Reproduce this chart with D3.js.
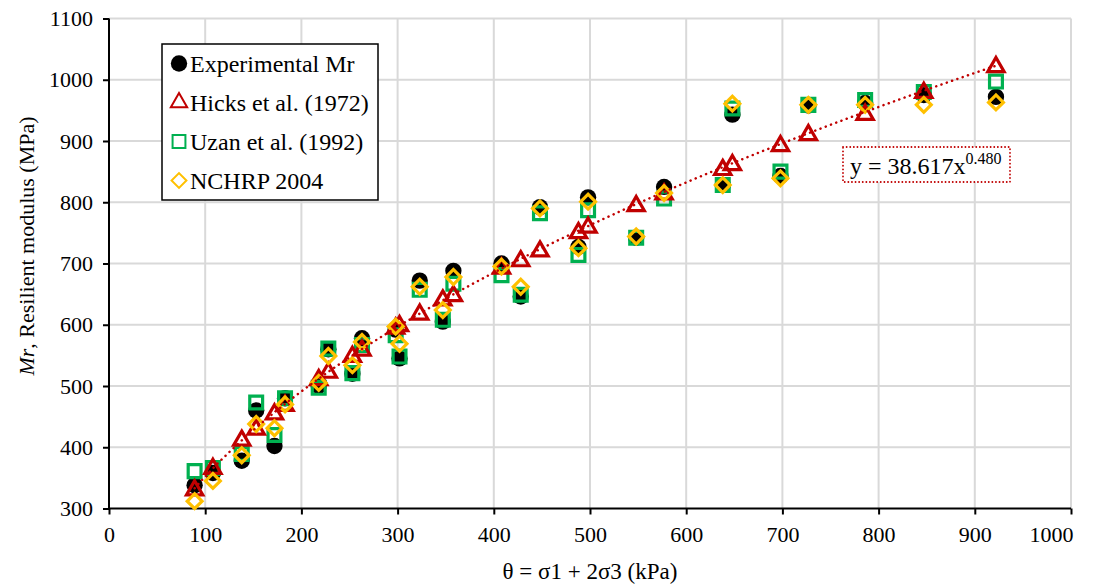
<!DOCTYPE html>
<html>
<head>
<meta charset="utf-8">
<script src="https://cdn.jsdelivr.net/npm/d3@7"></script>
<style>
  body { margin: 0; background: #fff; }
  svg text { font-family: "Liberation Serif", "Times New Roman", serif; fill: #000; }
</style>
</head>
<body>
<svg id="chart" width="1099" height="584"></svg>
<script>
// theta = sigma1 + 2 sigma3 (kPa), one value per test sequence
const theta = [89, 108, 138, 153, 172, 183, 218, 228, 253, 263, 298, 302, 323, 347, 358,
               408, 428, 448, 488, 498, 548, 577, 638, 648, 698, 727, 786, 847, 922];

const experimental = [338, 358, 378, 460, 402, 480, 500, 560, 520, 578, 592, 545, 672, 605, 688,
                      700, 646, 792, 727, 808, 742, 825, 828, 943, 843, 958, 962, 975, 972];
const hicks = [330, 365, 411, 429, 454, 468, 510, 522, 548, 558, 594, 598, 617, 640, 647,
               692, 704, 720, 750, 759, 794, 813, 853, 861, 892, 910, 943, 979, 1021];
const uzan = [361, 366, 389, 473, 420, 480, 497, 561, 521, 567, 583, 548, 657, 608, 667,
              681, 649, 782, 714, 787, 742, 806, 828, 953, 850, 959, 967, 980, 997];
const nchrp = [312, 345, 387, 438, 431, 470, 505, 549, 534, 572, 597, 569, 662, 624, 678,
               695, 662, 790, 725, 801, 744, 815, 828, 961, 839, 959, 959, 959, 963];

const xTicks = d3.range(0, 1001, 100);
const yTicks = d3.range(300, 1101, 100);
const fitK1 = 38.617, fitK2 = 0.480;

const legendItems = [
  { name: "Experimental Mr", shape: "circle" },
  { name: "Hicks et al. (1972)", shape: "triangle" },
  { name: "Uzan et al. (1992)", shape: "square" },
  { name: "NCHRP 2004", shape: "diamond" }
];

const colors = { circle: "#000000", triangle: "#c00000", square: "#00b050", diamond: "#ffc000" };

const svg = d3.select("#chart");
const x = d3.scaleLinear().domain([0, 1000]).range([109, 1071]);
const y = d3.scaleLinear().domain([300, 1100]).range([508.5, 18.5]);

// gridlines
svg.append("g").selectAll("line.v").data(xTicks.slice(1)).enter().append("line")
  .attr("x1", d => x(d)).attr("x2", d => x(d))
  .attr("y1", y(300)).attr("y2", y(1100))
  .attr("stroke", "#d9d9d9").attr("stroke-width", 2);
svg.append("g").selectAll("line.h").data(yTicks.slice(1)).enter().append("line")
  .attr("x1", x(0)).attr("x2", x(1000))
  .attr("y1", d => y(d)).attr("y2", d => y(d))
  .attr("stroke", "#d9d9d9").attr("stroke-width", 2);

// axes
const xAxis = svg.append("g").attr("transform", `translate(0,${y(300)})`)
  .call(d3.axisBottom(x).tickValues(xTicks).tickSize(6).tickPadding(12).tickFormat(d3.format("d")));
const yAxis = svg.append("g").attr("transform", `translate(${x(0)},0)`)
  .call(d3.axisLeft(y).tickValues(yTicks).tickSize(6).tickPadding(10).tickFormat(d3.format("d")));
[xAxis, yAxis].forEach(a => {
  a.select(".domain").attr("stroke", "#000").attr("stroke-width", 2);
  a.selectAll(".tick line").attr("stroke", "#000").attr("stroke-width", 2);
  a.selectAll(".tick text").attr("font-size", 22).attr("font-family", "Liberation Serif");
});
xAxis.select(".domain").attr("d", `M${x(0)},0H${x(1000)}`);
yAxis.select(".domain").attr("d", `M0,${y(300)}V${y(1100)}`);
// last x label kept inside the chart like the original
xAxis.selectAll(".tick text").filter(d => d === 1000).attr("text-anchor", "end").attr("dx", 2);

// axis titles
svg.append("text").attr("x", 590).attr("y", 579).attr("text-anchor", "middle")
  .attr("font-size", 23).text("θ = σ1 + 2σ3 (kPa)");
const yt = svg.append("text").attr("transform", "translate(34,246) rotate(-90)")
  .attr("text-anchor", "middle").attr("font-size", 22);
yt.append("tspan").attr("font-style", "italic").text("Mr");
yt.append("tspan").text(", Resilient modulus (MPa)");

// marker shapes
const sym = {
  circle: d3.symbol().type(d3.symbolCircle).size(210),
  triangle: d3.symbol().type(d3.symbolTriangle).size(115),
  square: d3.symbol().type(d3.symbolSquare).size(165),
  diamond: d3.symbol().type(d3.symbolSquare).size(110)
};

function drawSeries(values, shape) {
  const g = svg.append("g");
  g.selectAll("path").data(values).enter().append("path")
    .attr("d", sym[shape]())
    .attr("transform", (d, i) => `translate(${x(theta[i])},${y(d)})` + (shape === "diamond" ? " rotate(45)" : ""))
    .attr("fill", shape === "circle" ? colors.circle : "none")
    .attr("stroke", colors[shape])
    .attr("stroke-width", shape === "circle" ? 0 : 3.2);
}

drawSeries(experimental, "circle");
drawSeries(uzan, "square");
drawSeries(hicks, "triangle");
drawSeries(nchrp, "diamond");

// power trendline fitted to Hicks model
const line = d3.line().x(d => x(d)).y(d => y(fitK1 * Math.pow(d, fitK2)));
const fitX = d3.range(theta[0], theta[theta.length - 1] + 0.1, 2);
svg.append("path").datum(fitX).attr("d", line)
  .attr("fill", "none").attr("stroke", "#c00000").attr("stroke-width", 2.5)
  .attr("stroke-dasharray", "0.1 5.5").attr("stroke-linecap", "round");

// equation box
svg.append("rect").attr("x", 843).attr("y", 147).attr("width", 167).attr("height", 35)
  .attr("fill", "#fff").attr("stroke", "#c00000").attr("stroke-width", 1.8)
  .attr("stroke-dasharray", "0.1 3.5").attr("stroke-linecap", "round");
const eq = svg.append("text").attr("x", 850).attr("y", 174).attr("font-size", 24);
eq.append("tspan").text("y = 38.617x");
eq.append("tspan").attr("dy", -10).attr("font-size", 16).text("0.480");

// legend
const lg = svg.append("g");
lg.append("rect").attr("x", 162).attr("y", 44).attr("width", 216).attr("height", 156)
  .attr("fill", "#fff").attr("stroke", "#000").attr("stroke-width", 1.5);
legendItems.forEach((item, i) => {
  const cy = 63.5 + i * 39;
  lg.append("path").attr("d", sym[item.shape]())
    .attr("transform", `translate(179,${cy})` + (item.shape === "diamond" ? " rotate(45)" : ""))
    .attr("fill", item.shape === "circle" ? "#000" : "none")
    .attr("stroke", colors[item.shape]).attr("stroke-width", item.shape === "circle" ? 0 : 2);
  lg.append("text").attr("x", 190).attr("y", cy + 8).attr("font-size", 24).text(item.name);
});
</script>
</body>
</html>
